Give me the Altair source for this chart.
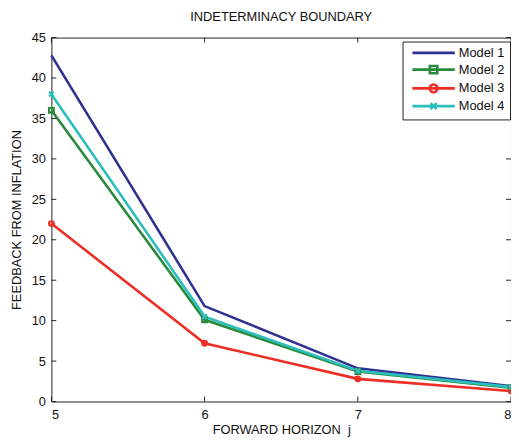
import altair as alt
import pandas as pd

horizons = [5, 6, 7, 8]
models = ["Model 1", "Model 2", "Model 3", "Model 4"]
model1 = [42.8, 11.8, 4.1, 1.9]
model2 = [36.0, 10.1, 3.7, 1.7]
model3 = [22.0, 7.2, 2.8, 1.3]
model4 = [38.0, 10.5, 3.8, 1.8]
colors = ["#2E3192", "#2A8A3C", "#EE2D24", "#2CBDBD"]
y_ticks = [0, 5, 10, 15, 20, 25, 30, 35, 40, 45]
x_ticks = [5, 6, 7, 8]

rows = []
for name, vals in zip(models, [model1, model2, model3, model4]):
    for h, v in zip(horizons, vals):
        rows.append({"horizon": h, "value": v, "model": name})
df = pd.DataFrame(rows)

W, H = 466, 369
FONT = "Liberation Sans"

marker_paths = [
    "M0,0",
    "M-0.5,-0.5H0.5V0.5H-0.5Z",
    "M-0.5,0A0.5,0.5 0 1,0 0.5,0A0.5,0.5 0 1,0 -0.5,0Z",
    "M-0.5,-0.5L0.5,0.5M-0.5,0.5L0.5,-0.5",
]
legend_paths = [
    "M-4.3,0H4.3",
    "M-4.3,0H4.3M-0.75,-0.75H0.75V0.75H-0.75Z",
    "M-4.3,0H4.3M-0.8,0A0.8,0.8 0 1,0 0.8,0A0.8,0.8 0 1,0 -0.8,0Z",
    "M-4.3,0H4.3M-0.6,-0.6L0.6,0.6M-0.6,0.6L0.6,-0.6",
]

xscale = alt.Scale(domain=[5, 8], nice=False)
yscale = alt.Scale(domain=[0, 45], nice=False)
cscale = alt.Scale(domain=models, range=colors)

x_enc = alt.X("horizon:Q", scale=xscale,
              axis=alt.Axis(values=x_ticks, title="FORWARD HORIZON\u00a0 j", grid=False,
                            ticks=False, domain=False, labelPadding=7, titlePadding=2,
                            format="d"))
y_enc = alt.Y("value:Q", scale=yscale,
              axis=alt.Axis(values=y_ticks, title="FEEDBACK FROM INFLATION", grid=False,
                            ticks=False, domain=False, labelPadding=6, titlePadding=8))

lines = alt.Chart(df).mark_line(strokeWidth=2.6).encode(
    x=x_enc, y=y_enc,
    color=alt.Color("model:N", scale=cscale, legend=None),
    detail="model:N",
)

points = alt.Chart(df).mark_point(filled=False, strokeWidth=2.2, size=90, opacity=1).encode(
    x="horizon:Q", y="value:Q",
    color=alt.Color("model:N", scale=cscale, legend=None),
    shape=alt.Shape("model:N", scale=alt.Scale(domain=models, range=marker_paths), legend=None),
)

leg = alt.Legend(orient="none", legendX=356, legendY=4,
                 symbolSize=100, symbolStrokeWidth=2.6,
                 symbolOpacity=1, symbolFillColor="transparent",
                 labelFontSize=13, labelFont=FONT, labelColor="#111",
                 rowPadding=0, labelOffset=19, symbolOffset=20,
                 strokeColor="#222", fillColor="white",
                 padding=5)

legend_layer = alt.Chart(df).mark_point(filled=False, strokeWidth=2.6, size=1, opacity=0).encode(
    x="horizon:Q", y="value:Q",
    color=alt.Color("model:N", scale=cscale, title=None, legend=leg),
    shape=alt.Shape("model:N", scale=alt.Scale(domain=models, range=legend_paths),
                    title=None, legend=leg),
)

tick_df = pd.DataFrame({"yt": y_ticks})
xt_df = pd.DataFrame({"xt": x_ticks})
tl = alt.Chart(tick_df).mark_rule(color="#222", strokeWidth=1).encode(
    y=alt.Y("yt:Q", scale=yscale), x=alt.value(0), x2=alt.value(5))
tr = alt.Chart(tick_df).mark_rule(color="#222", strokeWidth=1).encode(
    y=alt.Y("yt:Q", scale=yscale), x=alt.value(W - 5), x2=alt.value(W))
tb = alt.Chart(xt_df).mark_rule(color="#222", strokeWidth=1).encode(
    x=alt.X("xt:Q", scale=xscale), y=alt.value(H), y2=alt.value(H - 5))
tt = alt.Chart(xt_df).mark_rule(color="#222", strokeWidth=1).encode(
    x=alt.X("xt:Q", scale=xscale), y=alt.value(0), y2=alt.value(5))

chart = alt.layer(lines, points, tl, tr, tb, tt, legend_layer).resolve_scale(
    shape="independent", color="independent"
).properties(
    width=W, height=H,
    title=alt.Title("INDETERMINACY BOUNDARY", fontSize=13, fontWeight="normal",
                    font=FONT, color="#111", offset=8, anchor="middle"),
    autosize=alt.AutoSizeParams(type="none"),
    padding={"left": 44, "top": 27, "right": 0, "bottom": 34},
    background="white",
).configure_view(stroke="#222", strokeWidth=1).configure_axis(
    labelFont=FONT, titleFont=FONT, labelFontSize=13, titleFontSize=13,
    labelColor="#111", titleColor="#111", titleFontWeight="normal"
)

chart.save("out.html", embed_options={"renderer": "svg", "actions": False})
